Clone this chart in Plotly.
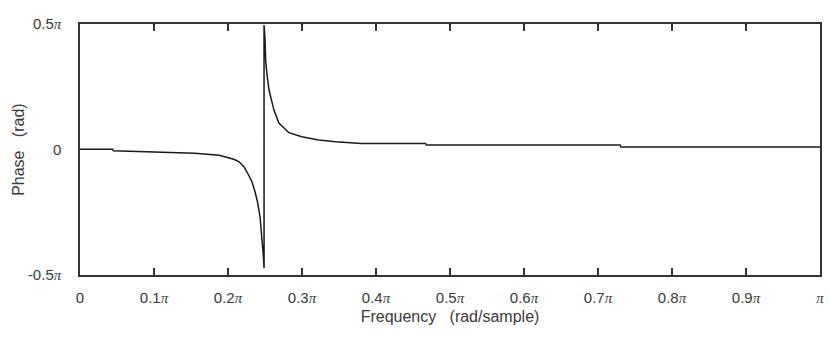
import plotly.graph_objects as go

# Frequency in units of pi (rad/sample), phase in units of pi (rad)
freq = [0, 0.044, 0.045, 0.117, 0.155, 0.188, 0.208, 0.215, 0.2218, 0.2285, 0.2325,
        0.2366, 0.2399, 0.2433, 0.2453, 0.2466, 0.2480, 0.2487, 0.2487, 0.2500, 0.2510,
        0.2527, 0.2554, 0.2621, 0.2688, 0.2823, 0.2997, 0.3226, 0.3454, 0.3804, 0.467,
        0.468, 0.730, 0.731, 1.0]
phase = [0.001, 0.001, -0.005, -0.010, -0.015, -0.023, -0.039, -0.049, -0.0697, -0.1056,
         -0.1295, -0.1693, -0.2092, -0.2689, -0.3287, -0.3805, -0.4323, -0.4721, 0.496,
         0.444, 0.350, 0.297, 0.237, 0.157, 0.1056, 0.0669, 0.051, 0.0378, 0.0311, 0.0239,
         0.0239, 0.0179, 0.0179, 0.010, 0.010]

PI = '<span style="font-family:Liberation Serif;font-style:italic">π</span>'
x_tickvals = [0, 0.1, 0.2, 0.3, 0.4, 0.5, 0.6, 0.7, 0.8, 0.9, 1.0]
x_ticktext = ["0"] + [f"0.{i}{PI}" for i in range(1, 10)] + [PI]
y_tickvals = [-0.5, 0, 0.5]
y_ticktext = [f"-0.5{PI}", "0", f"0.5{PI}"]

fig = go.Figure()
fig.add_trace(go.Scatter(x=freq, y=phase, mode="lines",
                         line=dict(color="#1a1a1a", width=1.5), showlegend=False))

fig.update_layout(
    width=829, height=337,
    margin=dict(l=80, r=5, t=24, b=62),
    paper_bgcolor="white", plot_bgcolor="white",
    font=dict(family="Liberation Sans, Arial, sans-serif", size=15, color="#3a3a3a"),
)
fig.update_xaxes(
    range=[0, 1], tickvals=x_tickvals, ticktext=x_ticktext,
    showgrid=False, zeroline=False,
    showline=True, linecolor="#333333", linewidth=1.5, mirror="ticks",
    ticks="inside", ticklen=7, tickwidth=1.5, tickcolor="#333333",
    ticklabelstandoff=8,
    title=dict(text="Frequency\u00a0\u00a0\u00a0(rad/sample)", font=dict(size=16), standoff=6),
)
fig.update_yaxes(
    range=[-0.5, 0.5], tickvals=y_tickvals, ticktext=y_ticktext,
    showgrid=False, zeroline=False,
    showline=True, linecolor="#333333", linewidth=1.5, mirror=True,
    ticks="", ticklabelstandoff=14,
)
fig.add_annotation(
    text="Phase\u00a0\u00a0\u00a0(rad)", textangle=-90,
    xref="paper", yref="paper", x=-0.0833, y=0.5,
    xanchor="center", yanchor="middle", showarrow=False,
    font=dict(size=16, color="#3a3a3a"),
)

fig.write_html("out.html")
